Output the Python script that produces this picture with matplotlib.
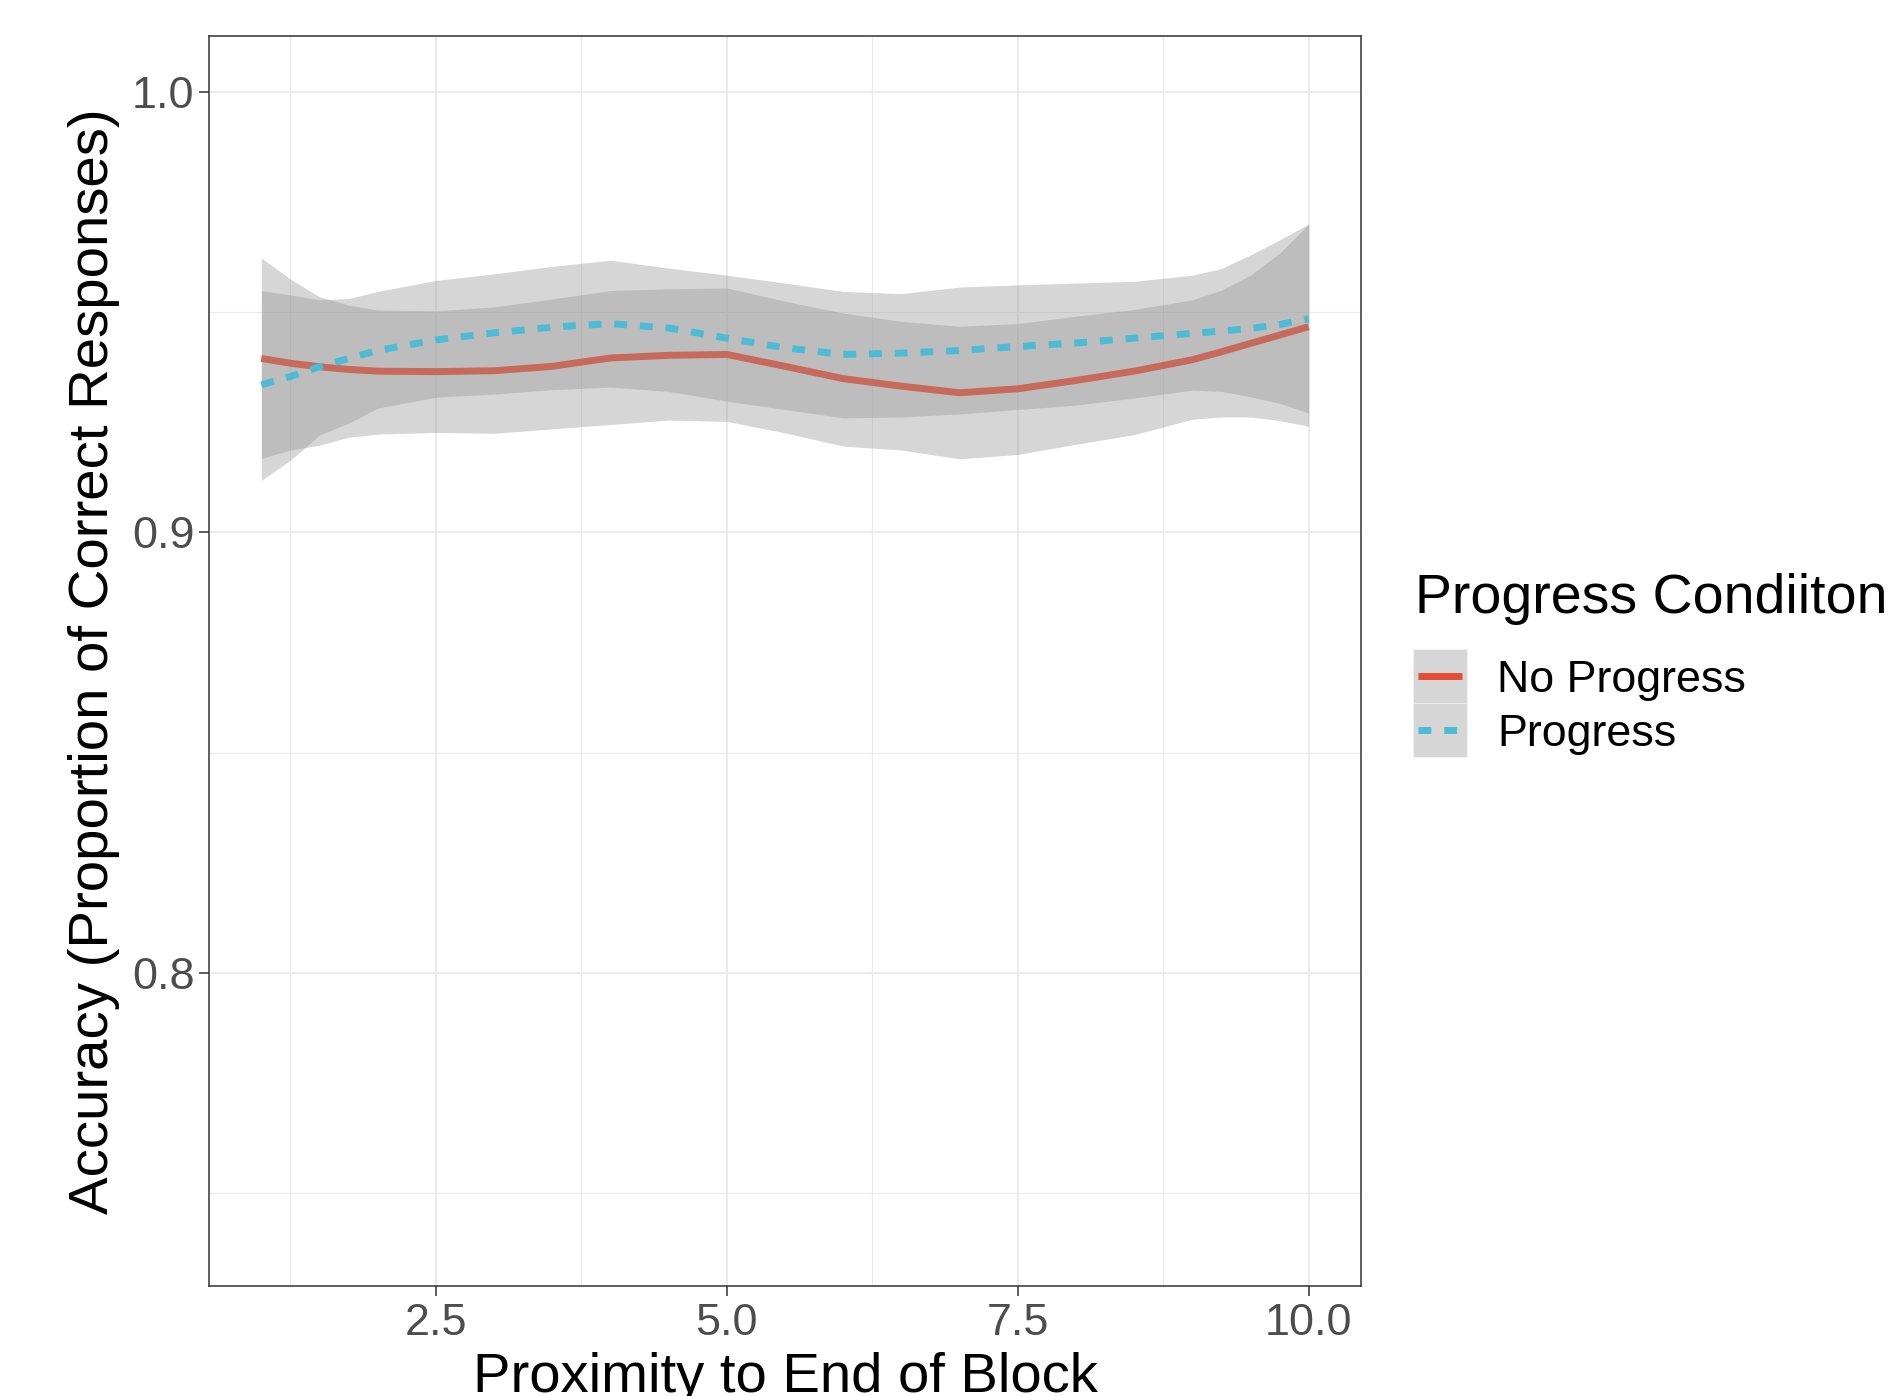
import matplotlib
matplotlib.use("Agg")
import matplotlib.pyplot as plt
from matplotlib.lines import Line2D
from matplotlib.patches import Rectangle

plt.rcParams['font.family'] = ['Liberation Sans', 'DejaVu Sans']

# ---------------- data ----------------
proximity = [1.0, 1.25, 1.5, 1.75, 2.0, 2.5, 3.0, 3.5, 4.0, 4.5, 5.0, 5.5,
             6.0, 6.5, 7.0, 7.5, 8.0, 8.5, 9.0, 9.25, 9.5, 9.75, 10.0]

no_progress_fit = [0.9395, 0.9384, 0.9376, 0.9370, 0.9366, 0.9365, 0.9367, 0.9377, 0.9396, 0.9402,
                   0.9404, 0.9377, 0.9349, 0.9332, 0.9317, 0.9326, 0.9345, 0.9366, 0.9392, 0.9410,
                   0.9429, 0.9448, 0.9467]
no_progress_lo = [0.9168, 0.9187, 0.9198, 0.9216, 0.9223, 0.9227, 0.9225, 0.9235, 0.9245, 0.9255,
                  0.9252, 0.9226, 0.9196, 0.9187, 0.9167, 0.9177, 0.9200, 0.9222, 0.9257, 0.9262,
                  0.9262, 0.9254, 0.9241]
no_progress_hi = [0.9623, 0.9575, 0.9535, 0.9516, 0.9505, 0.9503, 0.9512, 0.9530, 0.9549, 0.9553,
                  0.9555, 0.9525, 0.9498, 0.9479, 0.9468, 0.9474, 0.9491, 0.9506, 0.9528, 0.9550,
                  0.9584, 0.9634, 0.9700]

progress_fit = [0.9335, 0.9354, 0.9376, 0.9395, 0.9413, 0.9437, 0.9453, 0.9466, 0.9474, 0.9464,
                0.9441, 0.9419, 0.9404, 0.9407, 0.9413, 0.9422, 0.9430, 0.9441, 0.9452, 0.9457,
                0.9463, 0.9472, 0.9485]
progress_lo = [0.9118, 0.9164, 0.9221, 0.9248, 0.9282, 0.9307, 0.9314, 0.9324, 0.9330, 0.9320,
               0.9298, 0.9279, 0.9260, 0.9262, 0.9269, 0.9279, 0.9289, 0.9305, 0.9323, 0.9320,
               0.9308, 0.9293, 0.9271]
progress_hi = [0.9549, 0.9539, 0.9528, 0.9531, 0.9547, 0.9572, 0.9587, 0.9604, 0.9618, 0.9600,
               0.9584, 0.9566, 0.9547, 0.9542, 0.9557, 0.9562, 0.9566, 0.9570, 0.9584, 0.9599,
               0.9630, 0.9664, 0.9700]

conditions = ["No Progress", "Progress"]
legend_title = "Progress Condiiton"
x_ticks = [2.5, 5.0, 7.5, 10.0]
x_tick_labels = ["2.5", "5.0", "7.5", "10.0"]
x_minor = [1.25, 3.75, 6.25, 8.75]
y_ticks = [0.8, 0.9, 1.0]
y_tick_labels = ["0.8", "0.9", "1.0"]
y_minor = [0.75, 0.85, 0.95]
x_title = "Proximity to End of Block"
y_title = "Accuracy (Proportion of Correct Responses)"

# ---------------- styling ----------------
RED = "#E64B35"
BLUE = "#4DBBD5"
RIBBON = "#999999"
W, H = 1897, 1396

fig = plt.figure(figsize=(W / 100, H / 100), dpi=100)
fig.patch.set_facecolor("white")
ax = fig.add_axes([209 / W, 1 - 1286 / H, (1361 - 209) / W, (1286 - 36) / H])

ax.set_xlim(0.55, 10.45)
ax.set_ylim(0.7289, 1.0127)

ax.set_xticks(x_ticks)
ax.set_xticklabels(x_tick_labels)
ax.set_xticks(x_minor, minor=True)
ax.set_yticks(y_ticks)
ax.set_yticklabels(y_tick_labels)
ax.set_yticks(y_minor, minor=True)

ax.set_axisbelow(True)
ax.grid(True, which="major", color="#EBEBEB", linewidth=1.5)
ax.grid(True, which="minor", color="#EBEBEB", linewidth=0.8)
ax.tick_params(which="major", length=7, width=1.1, color="#333333",
               labelsize=32.3, labelcolor="#4D4D4D")
ax.tick_params(axis="x", which="major", pad=5)
ax.tick_params(axis="y", which="major", pad=3.5)
ax.tick_params(which="minor", length=0)
for s in ax.spines.values():
    s.set_color("#333333")
    s.set_linewidth(1.1)

# group 1: No Progress (ribbon then line)
ax.fill_between(proximity, no_progress_lo, no_progress_hi, color=RIBBON, alpha=0.4,
                linewidth=0, zorder=1)
ax.plot(proximity, no_progress_fit, color=RED, linewidth=5, solid_capstyle="butt",
        solid_joinstyle="round", zorder=2)
# group 2: Progress
ax.fill_between(proximity, progress_lo, progress_hi, color=RIBBON, alpha=0.4,
                linewidth=0, zorder=3)
ax.plot(proximity, progress_fit, color=BLUE, linewidth=5, dashes=(1.85, 1.85),
        dash_capstyle="butt", zorder=4)

# axis titles
fig.text(785 / W, 1 - 1392 / H, x_title, ha="center", va="baseline", fontsize=40.5, color="black")
fig.text(94 / W, 1 - 661 / H, y_title, ha="center", va="center", rotation=90,
         fontsize=40.6, color="black")

# legend (drawn by hand)
fig.text(1415 / W, 1 - 613 / H, legend_title, ha="left", va="baseline", fontsize=40, color="black")
row_tops = [649, 703]
row_h = 54
line_colors = [RED, BLUE]
for i, name in enumerate(conditions):
    top = row_tops[i]
    fig.patches.append(Rectangle((1413 / W, 1 - (top + row_h) / H), 54 / W, row_h / H,
                                 transform=fig.transFigure, facecolor=RIBBON, alpha=0.4,
                                 edgecolor="white", linewidth=0.8))
    yc = 1 - (top + row_h / 2) / H
    kw = dict(color=line_colors[i], linewidth=5, transform=fig.transFigure)
    if i == 0:
        ln = Line2D([1418 / W, 1462 / W], [yc, yc], solid_capstyle="butt", **kw)
    else:
        ln = Line2D([1418 / W, 1462 / W], [yc, yc], dashes=(1.85, 1.85), dash_capstyle="butt", **kw)
    fig.lines.append(ln)
    fig.text(1497 / W, yc, name, ha="left", va="center_baseline", fontsize=32.3, color="black")

fig.savefig("out.png", dpi=100, facecolor="white")
